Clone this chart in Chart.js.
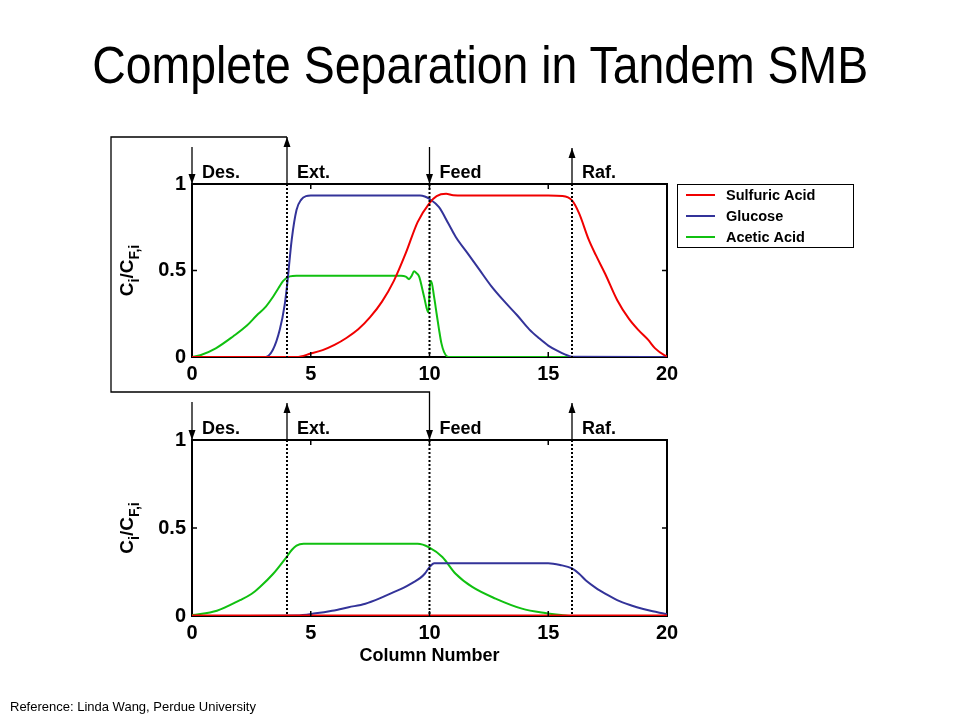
<!DOCTYPE html>
<html>
<head>
<meta charset="utf-8">
<script src="https://cdn.jsdelivr.net/npm/chart.js@4.4.0/dist/chart.umd.min.js"></script>
<style>
  body { margin: 0; width: 960px; height: 720px; background: #fff; position: relative; overflow: hidden;
         font-family: "Liberation Sans", Arial, sans-serif; }
  #titleWrap { position: absolute; left: 0; top: 40px; width: 960px; text-align: center; }
  #title { display: inline-block; font-size: 51px; line-height: 51px; color: #000; white-space: nowrap;
           transform-origin: 50% 50%; }
  #ref { position: absolute; left: 10px; top: 700px; font-size: 13px; line-height: 13px; color: #000; }
  canvas { position: absolute; left: 0; }
  #cTop { top: 120px; }
  #cBot { top: 400px; }
  #loop { position: absolute; left: 0; top: 0; pointer-events: none; }
</style>
</head>
<body>
<div id="titleWrap"><span id="title">Complete Separation in Tandem SMB</span></div>
<canvas id="cTop" width="960" height="280"></canvas>
<canvas id="cBot" width="960" height="280"></canvas>
<svg id="loop" width="960" height="720"></svg>
<div id="ref">Reference: Linda Wang, Perdue University</div>
<script>
// axes
var xTicks = [0, 5, 10, 15, 20];
var yTicks = [0, 0.5, 1];

// series
var seriesNames = ['Sulfuric Acid', 'Glucose', 'Acetic Acid'];
var seriesColors = ['#f00000', '#333399', '#10c010'];

// ports of the SMB unit
var portX = [0, 4, 10, 16];
var portNames = ['Des.', 'Ext.', 'Feed', 'Raf.'];
var portDir = ['down', 'up', 'down', 'up'];

// first SMB (top plot)
var topSulfuricX = [0, 4.4, 5, 5.5, 6, 6.5, 7, 7.5, 8, 8.5, 9, 9.5, 10, 10.3, 10.7, 11, 12, 13, 14, 15, 15.6, 16, 16.3, 16.7, 17, 17.4, 17.9, 18.4, 18.8, 19.2, 19.5, 19.9, 20];
var topSulfuricY = [0, 0, 0.02, 0.04, 0.07, 0.11, 0.16, 0.23, 0.32, 0.44, 0.6, 0.78, 0.89, 0.93, 0.943, 0.935, 0.933, 0.933, 0.933, 0.933, 0.93, 0.905, 0.83, 0.68, 0.59, 0.48, 0.33, 0.22, 0.155, 0.1, 0.05, 0.01, 0.005];
var topGlucoseX = [0, 3.1, 3.4, 3.7, 3.9, 4.0, 4.2, 4.4, 4.6, 4.8, 5.0, 9.6, 9.8, 10, 10.4, 10.8, 11.1, 11.6, 12.1, 12.6, 13.2, 13.7, 14.2, 14.6, 15.0, 15.4, 15.7, 16, 20];
var topGlucoseY = [0, 0, 0.04, 0.16, 0.3, 0.41, 0.68, 0.85, 0.91, 0.93, 0.933, 0.933, 0.928, 0.914, 0.866, 0.77, 0.695, 0.6, 0.505, 0.41, 0.314, 0.24, 0.16, 0.11, 0.066, 0.035, 0.015, 0.002, 0];
var topAceticX = [0, 0.35, 1, 1.74, 2.3, 2.72, 3.1, 3.42, 3.65, 3.84, 4.12, 4.4, 8.8, 9.0, 9.14, 9.25, 9.35, 9.45, 9.56, 9.77, 9.95, 10.02, 10.07, 10.19, 10.3, 10.4, 10.5, 10.61, 10.8, 20];
var topAceticY = [0, 0.01, 0.05, 0.12, 0.18, 0.24, 0.29, 0.35, 0.4, 0.44, 0.466, 0.47, 0.47, 0.465, 0.45, 0.47, 0.495, 0.485, 0.466, 0.35, 0.257, 0.42, 0.44, 0.35, 0.25, 0.16, 0.08, 0.03, 0, 0];

// second SMB (bottom plot)
var botSulfuricX = [0, 20];
var botSulfuricY = [0.003, 0.003];
var botGlucoseX = [0, 4.4, 5.2, 5.9, 6.6, 7.3, 7.9, 8.4, 8.9, 9.3, 9.6, 9.8, 10, 10.2, 15, 15.5, 16, 16.3, 16.6, 17, 17.4, 17.9, 18.5, 19, 19.4, 19.9, 20];
var botGlucoseY = [0, 0.003, 0.015, 0.03, 0.05, 0.07, 0.1, 0.13, 0.16, 0.19, 0.215, 0.24, 0.278, 0.3, 0.3, 0.29, 0.27, 0.24, 0.2, 0.16, 0.127, 0.09, 0.06, 0.04, 0.027, 0.013, 0.01];
var botAceticX = [0, 1.05, 2.02, 2.5, 2.86, 3.42, 3.98, 4.2, 4.4, 4.7, 9.5, 9.98, 10.54, 11.1, 11.8, 12.78, 13.89, 14.87, 15.6, 16, 20];
var botAceticY = [0.005, 0.03, 0.09, 0.125, 0.165, 0.24, 0.335, 0.375, 0.4, 0.41, 0.41, 0.39, 0.335, 0.24, 0.165, 0.099, 0.042, 0.017, 0.005, 0, 0];

// title fitted to the slide width
var t = document.getElementById('title');
t.style.transform = 'scaleX(' + (776 / t.getBoundingClientRect().width) + ')';

function pts(xs, ys) {
  return xs.map(function(x, i) { return { x: x, y: ys[i] }; });
}

function makeDatasets(list) {
  return list.map(function(s, i) {
    return {
      label: seriesNames[i],
      data: pts(s[0], s[1]),
      borderColor: seriesColors[i],
      backgroundColor: seriesColors[i],
      borderWidth: 2,
      pointRadius: 0,
      fill: false,
      cubicInterpolationMode: 'monotone'
    };
  });
}

var fam = '"Liberation Sans", Arial, sans-serif';
var boldFont = 'bold 18px ' + fam;

function line(ctx, x1, y1, x2, y2) {
  ctx.beginPath(); ctx.moveTo(x1, y1); ctx.lineTo(x2, y2); ctx.stroke();
}

var decor = {
  id: 'decor',
  beforeDatasetsDraw: function(chart) {
    var ctx = chart.ctx, a = chart.chartArea;
    ctx.save();
    ctx.strokeStyle = '#000';
    ctx.lineWidth = 2;
    ctx.strokeRect(a.left, a.top, a.right - a.left, a.bottom - a.top);
    ctx.restore();
  },
  afterDraw: function(chart, args, o) {
    var ctx = chart.ctx, a = chart.chartArea, xs = chart.scales.x, ys = chart.scales.y;
    ctx.save();
    ctx.strokeStyle = '#000';
    ctx.fillStyle = '#000';

    // inward tick marks
    ctx.lineWidth = 1.5;
    xTicks.forEach(function(v) {
      if (v === xTicks[0] || v === xTicks[xTicks.length - 1]) return;
      var px = xs.getPixelForValue(v);
      line(ctx, px, a.bottom, px, a.bottom - 5);
      line(ctx, px, a.top, px, a.top + 5);
    });
    yTicks.forEach(function(v) {
      if (v === yTicks[0] || v === yTicks[yTicks.length - 1]) return;
      var py = ys.getPixelForValue(v);
      line(ctx, a.left, py, a.left + 5, py);
      line(ctx, a.right, py, a.right - 5, py);
    });

    // dotted port lines
    ctx.lineWidth = 2;
    ctx.setLineDash([2, 2]);
    portX.forEach(function(v, i) {
      if (i === 0) return;
      var px = xs.getPixelForValue(v);
      line(ctx, px, a.top, px, a.bottom);
    });
    ctx.setLineDash([]);

    // port arrows and names
    ctx.lineWidth = 1.3;
    ctx.font = boldFont;
    ctx.textBaseline = 'alphabetic';
    ctx.textAlign = 'left';
    portX.forEach(function(v, i) {
      var px = xs.getPixelForValue(v);
      var len = o.arrowLen[i];
      var y0 = a.top - len, y1 = a.top;
      line(ctx, px, y0, px, y1);
      ctx.beginPath();
      if (portDir[i] === 'down') {
        ctx.moveTo(px, y1); ctx.lineTo(px - 3.5, y1 - 10); ctx.lineTo(px + 3.5, y1 - 10);
      } else {
        ctx.moveTo(px, y0); ctx.lineTo(px - 3.5, y0 + 10); ctx.lineTo(px + 3.5, y0 + 10);
      }
      ctx.closePath(); ctx.fill();
      ctx.fillText(portNames[i], px + 10, a.top - 6);
    });

    // y title  C_i / C_F,i
    var parts = [['C', 0], ['i', 1], ['/C', 0], ['F,i', 1]];
    var mainF = 'bold 19px ' + fam;
    var subF = 'bold 14px ' + fam;
    var w = 0;
    parts.forEach(function(p) { ctx.font = p[1] ? subF : mainF; w += ctx.measureText(p[0]).width; });
    ctx.translate(a.left - 59, (a.top + a.bottom) / 2);
    ctx.rotate(-Math.PI / 2);
    var cx = -w / 2;
    parts.forEach(function(p) {
      ctx.font = p[1] ? subF : mainF;
      ctx.fillText(p[0], cx, p[1] ? 6 : 0);
      cx += ctx.measureText(p[0]).width;
    });
    ctx.setTransform(1, 0, 0, 1, 0, 0);

    // legend
    if (o.legend) {
      var lx = a.right + 10, ly = a.top;
      ctx.lineWidth = 1;
      ctx.strokeRect(lx + 0.5, ly + 0.5, 176, 63);
      ctx.font = 'bold 14.5px ' + fam;
      ctx.textBaseline = 'middle';
      chart.data.datasets.forEach(function(ds, i) {
        var ry = ly + 11 + i * 21;
        ctx.strokeStyle = ds.borderColor;
        ctx.lineWidth = 2;
        line(ctx, lx + 9, ry, lx + 38, ry);
        ctx.fillStyle = '#000';
        ctx.fillText(ds.label, lx + 49, ry + 1);
      });
    }
    ctx.restore();
  }
};

function makeOptions(cfg) {
  return {
    responsive: false,
    animation: false,
    devicePixelRatio: 1,
    layout: { padding: { left: 132, right: 293, top: cfg.padTop, bottom: 0 } },
    plugins: {
      legend: { display: false },
      tooltip: { enabled: false },
      decor: { arrowLen: cfg.arrowLen, legend: cfg.legend }
    },
    scales: {
      x: {
        type: 'linear', min: 0, max: 20,
        grid: { display: false, drawTicks: false },
        border: { display: false },
        ticks: { stepSize: 5, padding: 5, color: '#000', font: { family: fam, size: 20, weight: 'bold' } },
        title: { display: !!cfg.xTitle, text: cfg.xTitle || '', color: '#000', padding: { top: 0, bottom: 13 },
                 font: { family: fam, size: 18, weight: 'bold' } },
        afterFit: function(s) { s.height = cfg.xHeight; }
      },
      y: {
        min: 0, max: 1,
        grid: { display: false, drawTicks: false },
        border: { display: false },
        afterBuildTicks: function(s) { s.ticks = yTicks.map(function(v) { return { value: v }; }); },
        ticks: { padding: 6, color: '#000', font: { family: fam, size: 20, weight: 'bold' },
                 callback: function(v) { return String(v); } },
        afterFit: function(s) { s.width = 60; }
      }
    }
  };
}

var chartTop = new Chart(document.getElementById('cTop').getContext('2d'), {
  type: 'line',
  data: { datasets: makeDatasets([[topSulfuricX, topSulfuricY], [topGlucoseX, topGlucoseY], [topAceticX, topAceticY]]) },
  options: makeOptions({ padTop: 64, xHeight: 43, arrowLen: [37, 47, 37, 36], legend: true }),
  plugins: [decor]
});

var chartBot = new Chart(document.getElementById('cBot').getContext('2d'), {
  type: 'line',
  data: { datasets: makeDatasets([[botSulfuricX, botSulfuricY], [botGlucoseX, botGlucoseY], [botAceticX, botAceticY]]) },
  options: makeOptions({ padTop: 40, xHeight: 64, arrowLen: [38, 37, 37, 37], legend: false, xTitle: 'Column Number' }),
  plugins: [decor]
});

// extract of first unit routed to feed of second unit
var extPx = chartTop.scales.x.getPixelForValue(portX[1]);
var extTop = 120 + chartTop.chartArea.top - 47;
var feedPx = chartBot.scales.x.getPixelForValue(portX[2]);
var feedTop = 400 + chartBot.chartArea.top - 37;
var path = document.createElementNS('http://www.w3.org/2000/svg', 'path');
path.setAttribute('d', 'M' + extPx + ' ' + extTop + ' H 111 V 392 H ' + feedPx + ' V ' + feedTop);
path.setAttribute('fill', 'none');
path.setAttribute('stroke', '#000');
path.setAttribute('stroke-width', '1.3');
document.getElementById('loop').appendChild(path);
</script>
</body>
</html>
